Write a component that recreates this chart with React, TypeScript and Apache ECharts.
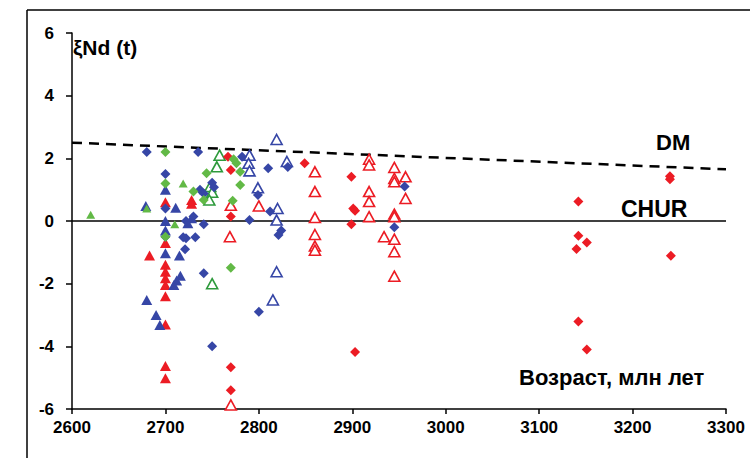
import React, { useEffect, useRef } from "react";
import * as echarts from "echarts";

const xTicks = [2600, 2700, 2800, 2900, 3000, 3100, 3200, 3300];
const yTicks = [-6, -4, -2, 0, 2, 4, 6];

const dmLine = [[2600, 2.5], [3300, 1.65]];
const churLine = [[2600, 0], [3300, 0]];

const blueDiamond = [
  [2680, 2.2], [2700, 1.5], [2700, 0.4], [2700, -0.5], [2722, 0], [2722, -0.55], [2721, -0.9],
  [2735, 2.2], [2737, 1.0], [2741, 0.88], [2750, 1.22], [2752, 1.08], [2782, 2.05], [2790, 0.03],
  [2799, 0.83], [2810, 1.68], [2812, 0.3], [2831, 1.72], [2824, -0.3], [2821, -0.45], [2730, 0.14],
  [2741, -0.1], [2719, -0.52], [2732, -0.52], [2741, -1.67], [2750, -4.0], [2800, -2.9],
  [2956, 1.1], [2945, -0.2],
];
const blueTriangle = [
  [2700, 1.0], [2679, 0.48], [2711, 0.42], [2700, 0.0], [2700, -0.3], [2728, 0.09], [2724, -0.07],
  [2700, -1.03], [2715, -1.1], [2716, -1.75], [2712, -1.9], [2709, -2.04], [2680, -2.52],
  [2690, -3.0], [2694, -3.32],
];
const blueOpenTriangle = [
  [2819, 2.6], [2790, 2.1], [2789, 1.84], [2790, 1.6], [2830, 1.9], [2799, 1.06], [2820, 0.4],
  [2819, 0.03], [2819, -1.62], [2815, -2.52],
];
const redDiamond = [
  [2767, 2.05], [2770, 1.63], [2770, 0.14], [2770, -4.67], [2770, -5.4], [2849, 1.84],
  [2899, 1.41], [2901, 0.4], [2903, 0.33], [2899, -0.1], [2903, -4.18], [3142, 0.62],
  [3142, -0.47], [3151, -0.69], [3140, -0.89], [3142, -3.21], [3151, -4.1], [3240, 1.43],
  [3240, 1.33], [3241, -1.11],
];
const redTriangle = [
  [2700, 0.6], [2728, 0.67], [2728, 0.55], [2700, -0.7], [2683, -1.1], [2700, -1.4], [2700, -1.62],
  [2700, -1.83], [2700, -2.04], [2700, -2.4], [2700, -3.3], [2700, -4.63], [2700, -5.02],
];
const redOpenTriangle = [
  [2770, 0.5], [2800, 0.48], [2769, -0.5], [2770, -5.87], [2860, 1.57], [2860, 0.94],
  [2860, 0.11], [2860, -0.43], [2860, -0.8], [2860, -0.93], [2918, 1.97], [2918, 1.79],
  [2918, 0.94], [2918, 0.62], [2918, 0.14], [2945, 1.71], [2945, 1.36], [2945, 1.25],
  [2945, 0.22], [2945, 0.14], [2945, -0.58], [2945, -0.98], [2945, -1.76], [2934, -0.5],
  [2957, 1.41], [2957, 0.72],
];
const greenDiamond = [
  [2700, 2.2], [2700, 1.2], [2773, 1.97], [2776, 1.84], [2780, 1.57], [2744, 1.52],
  [2730, 0.94], [2741, 0.67], [2780, 1.15], [2772, 0.65], [2700, -0.5], [2770, -1.49],
];
const greenTriangle = [[2620, 0.2], [2719, 1.2], [2680, 0.4], [2710, -0.1]];
const greenOpenTriangle = [
  [2758, 2.1], [2755, 1.73], [2748, 1.1], [2750, 0.92], [2747, 0.67], [2750, -2.0],
];

const BLUE = "#3646a6";
const RED = "#ec1c24";
const GREEN = "#62b946";
const DGREEN = "#2e9a3c";

function filled(data: number[][], symbol: string, color: string, size: number[]) {
  return {
    type: "scatter",
    data,
    symbol,
    symbolSize: size,
    itemStyle: { color, opacity: 1 },
    z: 3,
  };
}
function open(data: number[][], color: string) {
  return {
    type: "scatter",
    data,
    symbol: "triangle",
    symbolSize: [11, 10],
    itemStyle: { color: "#ffffff", borderColor: color, borderWidth: 1.6, opacity: 1 },
    z: 3,
  };
}

export default function App() {
  const ref = useRef<HTMLDivElement>(null);
  useEffect(() => {
    if (!ref.current) return;
    const chart = echarts.init(ref.current, null, { renderer: "svg" });
    const labelFont = { color: "#000", fontWeight: "bold", fontSize: 17, fontFamily: "Liberation Sans, Arial" };
    chart.setOption({
      animation: false,
      backgroundColor: "#ffffff",
      grid: { left: 72, right: 24, top: 33, bottom: 49, containLabel: false },
      xAxis: {
        type: "value",
        min: xTicks[0],
        max: xTicks[xTicks.length - 1],
        interval: 100,
        axisLine: { show: true, onZero: false, lineStyle: { color: "#000", width: 1.5 } },
        axisTick: { show: true, inside: false, length: 5, lineStyle: { color: "#000", width: 1.5 } },
        axisLabel: { ...labelFont, margin: 10, formatter: (v: number) => String(v) },
        splitLine: { show: false },
      },
      yAxis: {
        type: "value",
        min: yTicks[0],
        max: yTicks[yTicks.length - 1],
        interval: 2,
        axisLine: { show: true, onZero: false, lineStyle: { color: "#000", width: 1.5 } },
        axisTick: { show: true, inside: false, length: 6, lineStyle: { color: "#000", width: 1.5 } },
        axisLabel: { ...labelFont, margin: 18, formatter: (v: number) => String(v) },
        splitLine: { show: false },
      },
      graphic: [
        { type: "line", shape: { x1: 27, y1: 10, x2: 760, y2: 10 }, style: { stroke: "#000", lineWidth: 1.5 } },
        { type: "line", shape: { x1: 27, y1: 10, x2: 27, y2: 470 }, style: { stroke: "#000", lineWidth: 1.5 } },
        { type: "text", left: 73, top: 37, style: { text: "ξNd (t)", font: "bold 21px 'Liberation Sans', Arial", fill: "#000" } },
        { type: "text", left: 656, top: 131, style: { text: "DM", font: "bold 22px 'Liberation Sans', Arial", fill: "#000" } },
        { type: "text", left: 621, top: 197, style: { text: "CHUR", font: "bold 23px 'Liberation Sans', Arial", fill: "#000" } },
        { type: "text", left: 519, top: 366, style: { text: "Возраст, млн лет", font: "bold 22px 'Liberation Sans', Arial", fill: "#000" } },
      ],
      series: [
        {
          type: "line",
          data: dmLine,
          symbol: "none",
          lineStyle: { color: "#000", width: 2.5, type: [10, 7] },
          z: 2,
        },
        {
          type: "line",
          data: churLine,
          symbol: "none",
          lineStyle: { color: "#000", width: 1.5 },
          z: 2,
        },
        open(redOpenTriangle, RED),
        open(blueOpenTriangle, BLUE),
        open(greenOpenTriangle, DGREEN),
        filled(redTriangle, "triangle", RED, [11, 10]),
        filled(blueTriangle, "triangle", BLUE, [11, 10]),
        filled(greenTriangle, "triangle", GREEN, [9, 8]),
        filled(redDiamond, "diamond", RED, [10, 10]),
        filled(blueDiamond, "diamond", BLUE, [10, 10]),
        filled(greenDiamond, "diamond", GREEN, [10, 10]),
      ],
    });
    return () => chart.dispose();
  }, []);
  return <div ref={ref} style={{ width: 750, height: 458, position: "fixed", left: 0, top: 0 }} />;
}
